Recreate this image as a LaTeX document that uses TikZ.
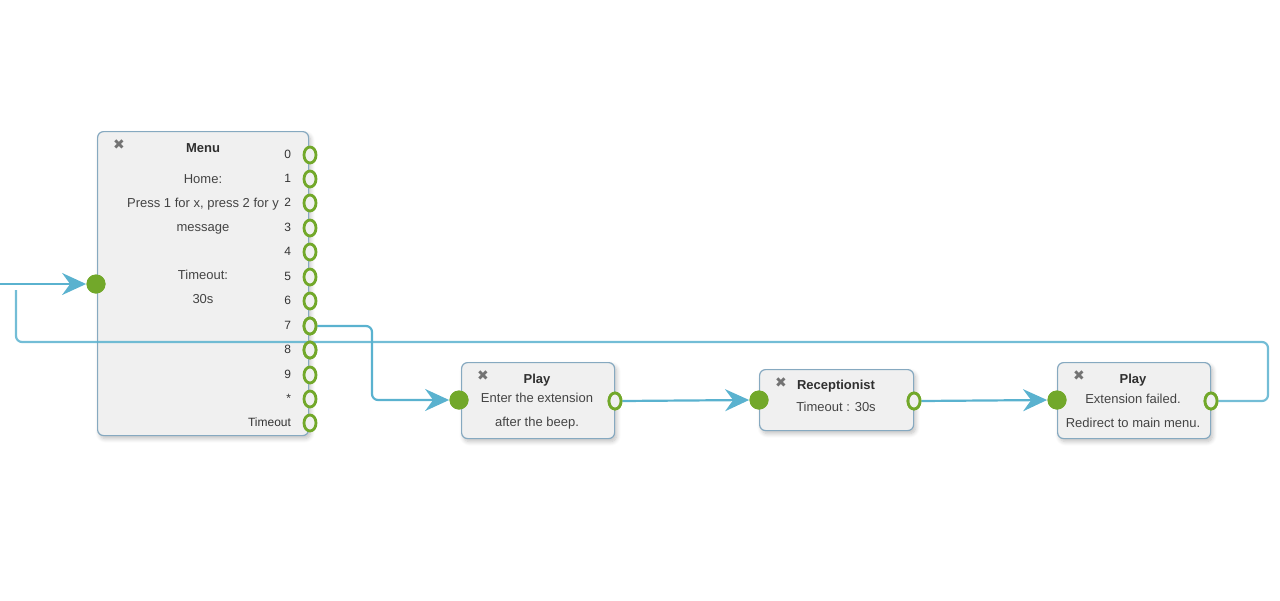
\documentclass[tikz,border=0pt]{standalone}
\usepackage{fontspec}
\setmainfont{Liberation Sans}
\newfontfamily\djfont{DejaVu Sans}
\usetikzlibrary{arrows.meta,shadows.blur,shapes.geometric}
\definecolor{lnk}{HTML}{5AB2CF}
\definecolor{grn}{HTML}{72A82A}
\definecolor{bfill}{HTML}{F0F0F0}
\definecolor{bdr}{HTML}{86A9C0}
\definecolor{txt}{HTML}{444444}
\tikzset{
 box/.style={draw=bdr,fill=bfill,rounded corners=3pt,line width=0.6pt,blur shadow={shadow blur steps=6,shadow xshift=1pt,shadow yshift=-1.5pt,shadow opacity=25}},
 inp/.style={circle,fill=grn,minimum size=9.5pt,inner sep=0pt},
 outp/.style={ellipse,draw=grn,line width=1.4pt,fill=bfill,minimum width=6pt,minimum height=8pt,inner sep=0pt},
 lbl/.style={text=txt,font=\fontsize{6.5}{12}\selectfont,align=center},
 ttl/.style={text=txt!70!black,font=\bfseries\fontsize{6.5}{8}\selectfont},
 xx/.style={text=gray!90!black,font=\djfont\fontsize{7}{8}\selectfont},
 link/.style={draw=lnk,line width=1.1pt,rounded corners=3pt},
 arr/.style={link,-{Stealth[length=12pt,width=11pt,inset=4pt]}}
}
\begin{document}
\begin{tikzpicture}[x=0.5pt,y=-0.5pt]
\useasboundingbox (0,0) rectangle (1280,600);
\coordinate (lp) at (16,290);
\node[box,minimum width=105.5pt,minimum height=152pt,anchor=north west] (menu) at (97,131) {};
\node[xx] at (119,145) {✖};
\node[ttl] at (203,148) {Menu};
\node[lbl] at (203,239) {Home:\\Press 1 for x, press 2 for y\\message\\[12pt]Timeout:\\30s};
\node[inp] (min) at (96,284) {};
\coordinate (src) at (0,284);
\foreach \k/\y/\t in {0/155/0,1/179/1,2/203/2,3/228/3,4/252/4,5/277/5,6/301/6,7/326/7,8/350/8,9/375/9,s/399/*,t/423/Timeout}{
  \node[outp] (p\k) at (310,\y) {};
  \node[lbl,anchor=east,text=black!80,font=\fontsize{6}{8}\selectfont] at (298,\y-1) {\t};
}
\node[box,minimum width=76.5pt,minimum height=38pt,anchor=north west] (pl1) at (461,362) {};
\node[xx] at (483,376) {✖};
\node[ttl] at (537,380) {Play};
\node[lbl] at (537,411) {Enter the extension\\after the beep.};
\node[inp] (i1) at (459,400) {};
\node[outp] (o1) at (615,401) {};
\node[box,minimum width=77pt,minimum height=30.5pt,anchor=north west] (rec) at (759,369) {};
\node[xx] at (781,383) {✖};
\node[ttl] at (836,386) {Receptionist};
\node[lbl] at (836,407) {Timeout : 30s};
\node[inp] (i2) at (759,400) {};
\node[outp] (o2) at (914,401) {};
\node[box,minimum width=76.5pt,minimum height=38pt,anchor=north west] (pl2) at (1057,362) {};
\node[xx] at (1079,376) {✖};
\node[ttl] at (1133,380) {Play};
\node[lbl] at (1133,411) {Extension failed.\\Redirect to main menu.};
\node[inp] (i3) at (1057,400) {};
\node[outp] (o3) at (1211,401) {};
\draw[arr] (src) -- (min.west);
\draw[link,draw opacity=0.85] (o3.east) -- (1268,401) -- (1268,342) -- (16,342) -- (lp);
\draw[arr] (p7.east) -- (372,326) -- (372,400) -- (i1.west);
\draw[arr] (o1.east) -- (i2.west);
\draw[arr] (o2.east) -- (i3.west);
\foreach \y in {326,350}{\node[outp] at (310,\y) {};}
\node[outp] at (615,401) {};\node[outp] at (914,401) {};\node[outp] at (1211,401) {};
\node[inp] at (96,284) {};\node[inp] at (459,400) {};\node[inp] at (759,400) {};\node[inp] at (1057,400) {};
\end{tikzpicture}
\end{document}
